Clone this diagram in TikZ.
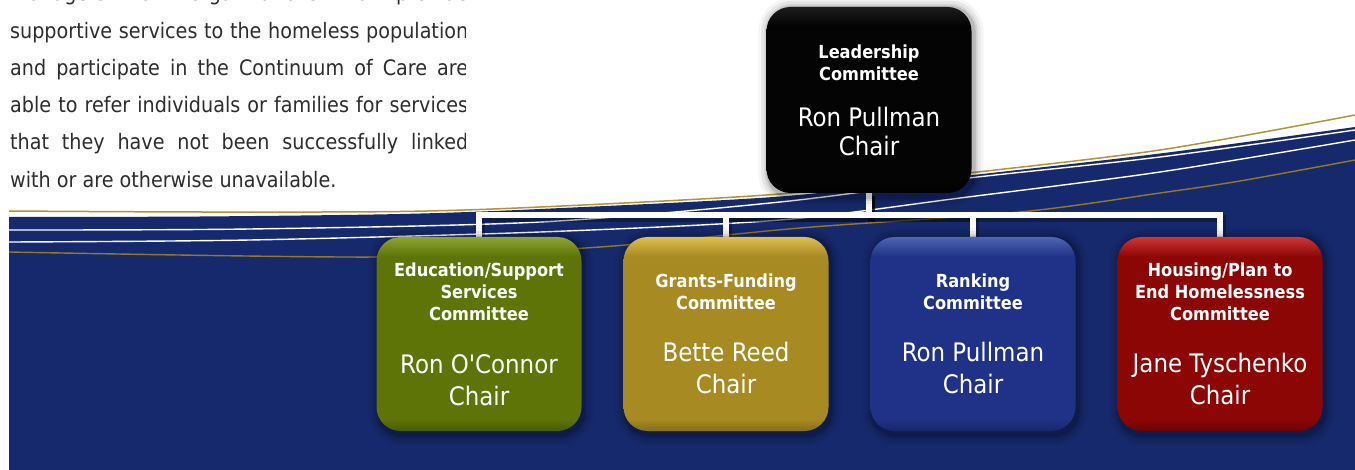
\documentclass[tikz,border=0pt]{standalone}
\usepackage{fontspec}
\setmainfont{DejaVu Sans Condensed}[Ligatures=TeXOff]
\usetikzlibrary{calc}
\definecolor{navy}{RGB}{22,41,108}
\definecolor{goldln}{RGB}{178,148,52}
\definecolor{goldlnB}{RGB}{150,122,34}
\definecolor{paragraph}{RGB}{45,45,45}
\definecolor{blkB}{RGB}{4,4,4}\definecolor{blkT}{RGB}{28,28,28}\definecolor{blkD}{RGB}{0,0,0}
\definecolor{grnB}{RGB}{94,116,6}\definecolor{grnT}{RGB}{140,165,50}\definecolor{grnD}{RGB}{72,90,4}
\definecolor{gldB}{RGB}{168,138,34}\definecolor{gldT}{RGB}{220,190,80}\definecolor{gldD}{RGB}{135,110,25}
\definecolor{bluB}{RGB}{32,50,135}\definecolor{bluT}{RGB}{78,102,178}\definecolor{bluD}{RGB}{24,38,105}
\definecolor{redB}{RGB}{140,6,6}\definecolor{redT}{RGB}{205,55,55}\definecolor{redD}{RGB}{105,4,4}
\pgfdeclareverticalshading{shBlk}{100bp}{color(0bp)=(blkD); color(25bp)=(blkD); color(28bp)=(blkB); color(70bp)=(blkB); color(75bp)=(blkT); color(100bp)=(blkT)}
\pgfdeclareverticalshading{shGrn}{100bp}{color(0bp)=(grnD); color(25bp)=(grnD); color(28bp)=(grnB); color(70bp)=(grnB); color(75bp)=(grnT); color(100bp)=(grnT)}
\pgfdeclareverticalshading{shGld}{100bp}{color(0bp)=(gldD); color(25bp)=(gldD); color(28bp)=(gldB); color(70bp)=(gldB); color(75bp)=(gldT); color(100bp)=(gldT)}
\pgfdeclareverticalshading{shBlu}{100bp}{color(0bp)=(bluD); color(25bp)=(bluD); color(28bp)=(bluB); color(70bp)=(bluB); color(75bp)=(bluT); color(100bp)=(bluT)}
\pgfdeclareverticalshading{shRed}{100bp}{color(0bp)=(redD); color(25bp)=(redD); color(28bp)=(redB); color(70bp)=(redB); color(75bp)=(redT); color(100bp)=(redT)}
\pgfdeclarelayer{bg}
\pgfsetlayers{bg,main}
\newcommand\boxtext[4]{\vbox{\hsize=200pt\centering\fontsize{18}{22}\selectfont\bfseries #1\par\vskip #3\fontsize{25.5}{#4}\selectfont\mdseries #2\par}}
\newcommand\mkshadow[1]{\foreach \k/\o [evaluate=\k as \r using 24+\k] in {10/0.04,7/0.06,4/0.08,2/0.12}{\fill[black,opacity=\o,rounded corners=\r pt] ($(#1.north west)+(-\k+2,-\k+1)$) rectangle ($(#1.south east)+(\k+2,\k+4)$);}}
\begin{document}
\begin{tikzpicture}[x=1pt,y=-1pt,
  box/.style={rounded corners=24pt, minimum width=205pt, minimum height=194pt, inner sep=0pt, text=white},
  conn/.style={draw=white, line width=6pt, line join=miter},
  connshadow/.style={draw=black, opacity=0.3, line width=7pt},
  ptext/.style={inner sep=0pt, anchor=base west, text=paragraph, font=\fontsize{21.3}{25}\selectfont},
  goldline/.style={draw=goldln, line width=1.5pt},
  goldlineB/.style={draw=goldlnB, line width=1.4pt},
  whiteline/.style={draw=white, line width=1.4pt}]
\useasboundingbox (0,0) rectangle (1355,470);

% paragraph text (clipped at the right and top)
\begin{scope}
\clip (0,0) rectangle (465,200);
\node[ptext] (t0) at (10,1) {\makebox[458pt][s]{managers from organizations that provide}};
\node[ptext] (t1) at (10,38.3) {\makebox[458pt][s]{supportive services to the homeless population}};
\node[ptext] (t2) at (10,75.5) {\makebox[458pt][s]{and participate in the Continuum of Care are}};
\node[ptext] (t3) at (10,112.8) {\makebox[458pt][s]{able to refer individuals or families for services}};
\node[ptext] (t4) at (10,150) {\makebox[458pt][s]{that they have not been successfully linked}};
\node[ptext] (t5) at (10,187.3) {with or are otherwise unavailable.};
\end{scope}

% boxes
\node[box, shading=shBlk, minimum height=186pt] (lead) at (869,100)
  {\boxtext{Leadership\\Committee}{Ron Pullman\\Chair}{17pt}{29pt}};
\node[box, shading=shGrn] (edu) at (479,334)
  {\boxtext{Education/Support\\Services\\Committee}{Ron O'Connor\\Chair}{21pt}{32pt}};
\node[box, shading=shGld] (grant) at (726,334)
  {\boxtext{Grants-Funding\\Committee}{Bette Reed\\Chair}{20pt}{32pt}};
\node[box, shading=shBlu] (rank) at (973,334)
  {\boxtext{Ranking\\Committee}{Ron Pullman\\Chair}{20pt}{32pt}};
\node[box, shading=shRed] (house) at (1220,334)
  {\boxtext{Housing/Plan to\\End Homelessness\\Committee}{Jane Tyschenko\\Chair}{20pt}{32pt}};

\begin{pgfonlayer}{bg}
\fill[white] (0,0) rectangle (1355,470);
\fill[navy] (9,470) -- plot[smooth, tension=0.5] coordinates {(9,217) (200,216.5) (400,214) (540,209) (780,196.5) (960,176.5) (1160,153.5) (1355,127)} -- (1355,470) -- cycle;
\draw[goldline] plot[smooth, tension=0.5] coordinates {(9,211) (200,212) (400,211.5) (540,207) (780,194) (960,174) (1160,150) (1355,115)};
\draw[whiteline] plot[smooth, tension=0.5] coordinates {(9,230) (250,229) (540,222) (780,202) (960,179) (1160,157) (1355,130)};
\draw[whiteline] plot[smooth, tension=0.5] coordinates {(9,242) (250,240) (540,232) (780,220) (960,198) (1160,172) (1355,140)};
\draw[goldlineB] plot[smooth, tension=0.5] coordinates {(9,252) (379,257) (600,247) (800,228) (1020,212) (1160,193) (1240,181) (1355,160)};
% connectors
\foreach \c in {edu,grant,rank,house}{
  \draw[connshadow, transform canvas={xshift=2pt,yshift=-3pt}] (lead.south) -- ++(0,22) -| (\c.north);}
\foreach \c in {edu,grant,rank,house}{
  \draw[conn] (lead.south) -- ++(0,22) -| (\c.north);}
% box shadows
\mkshadow{lead}
\mkshadow{edu}
\mkshadow{grant}
\mkshadow{rank}
\mkshadow{house}
\end{pgfonlayer}
\end{tikzpicture}
\end{document}
